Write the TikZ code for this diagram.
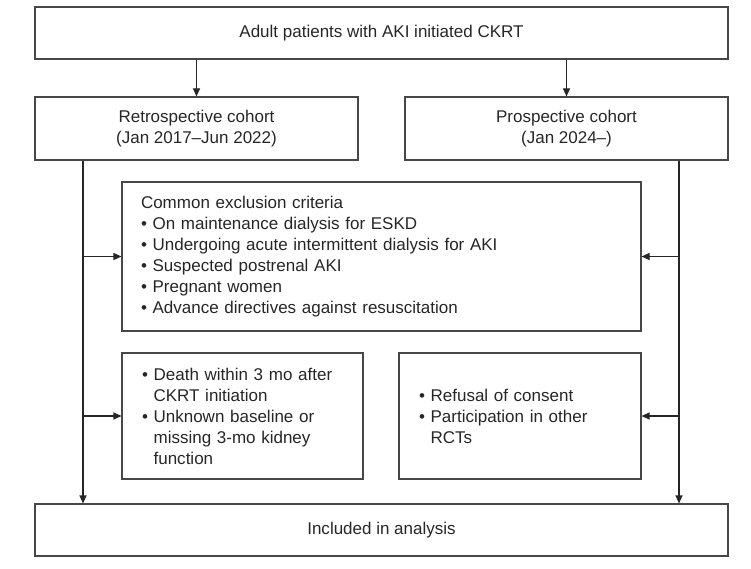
\documentclass[tikz,border=0pt]{standalone}
\usepackage{fontspec}
\setmainfont{Liberation Sans}
\usetikzlibrary{arrows.meta}
\begin{document}
\begin{tikzpicture}[x=1pt,y=-1pt,
  box/.style={draw=black!72, line width=1.1pt, inner sep=0pt, align=center,
    text=black!85, font={\fontsize{17}{21}\selectfont}},
  listbox/.style={box, align=left},
  conn/.style={draw=black!85, line width=1.1pt},
  arr/.style={conn, -{Triangle[length=8pt,width=7pt]}}]
\useasboundingbox (0,0) rectangle (751,569);
\node[box, minimum width=693pt, minimum height=52pt] (top) at (381.5,33) {Adult patients with AKI initiated CKRT};
\node[box, minimum width=323pt, minimum height=63pt] (retro) at (196.5,128.5) {Retrospective cohort\\(Jan 2017–Jun 2022)};
\node[box, minimum width=323pt, minimum height=63pt] (pros) at (566.5,128.5) {Prospective cohort\\(Jan 2024–)};
\node[listbox, inner xsep=19pt, text width=481pt, minimum height=149pt] (common) at (381.5,256.5)
  {Common exclusion criteria\\
   • On maintenance dialysis for ESKD\\
   • Undergoing acute intermittent dialysis for AKI\\
   • Suspected postrenal AKI\\
   • Pregnant women\\
   • Advance directives against resuscitation};
\node[listbox, inner xsep=20pt, text width=201pt, minimum height=126pt] (lowL) at (242.5,416)
  {• Death within 3 mo after\\
   \hphantom{• }CKRT initiation\\
   • Unknown baseline or\\
   \hphantom{• }missing 3-mo kidney\\
   \hphantom{• }function};
\node[listbox, inner xsep=20pt, text width=202pt, minimum height=126pt] (lowR) at (520,416)
  {• Refusal of consent\\
   • Participation in other\\
   \hphantom{• }RCTs};
\node[box, minimum width=693pt, minimum height=52pt] (bottom) at (381.5,530) {Included in analysis};
\coordinate (cL) at (83,0);
\coordinate (cR) at (679,0);
\draw[arr] (top.south -| retro.north) -- (retro.north);
\draw[arr] (top.south -| pros.north) -- (pros.north);
\draw[arr] (retro.south -| cL) -- (bottom.north -| cL);
\draw[arr] (pros.south -| cR) -- (bottom.north -| cR);
\draw[arr] (cL |- common.west) -- (common.west);
\draw[arr] (cL |- lowL.west) -- (lowL.west);
\draw[arr] (cR |- common.east) -- (common.east);
\draw[arr] (cR |- lowR.east) -- (lowR.east);
\end{tikzpicture}
\end{document}
